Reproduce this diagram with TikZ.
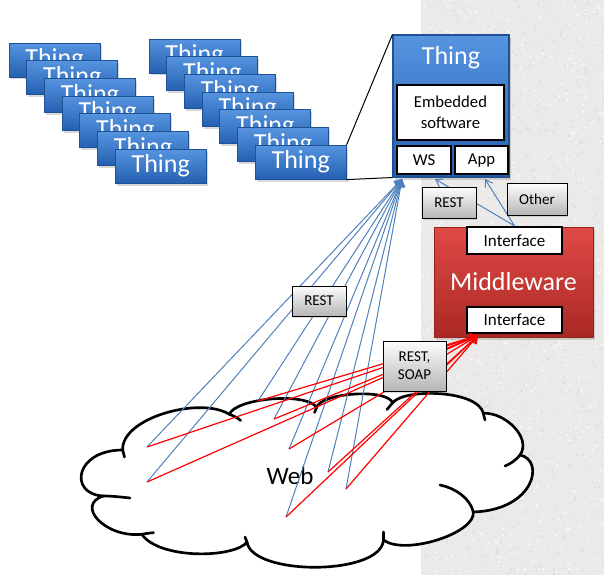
\documentclass[tikz,border=0pt]{standalone}
\usepackage{fontspec}
\setmainfont{Carlito}
\usetikzlibrary{arrows.meta,shadows}

\definecolor{thingtop}{RGB}{86,148,224}
\definecolor{thingbot}{RGB}{36,96,176}
\definecolor{thingrim}{RGB}{30,82,148}
\definecolor{mwtop}{RGB}{224,74,70}
\definecolor{mwbot}{RGB}{170,40,36}
\definecolor{mwrim}{RGB}{150,34,30}
\definecolor{lbltop}{RGB}{253,253,253}
\definecolor{lblbot}{RGB}{182,182,182}
\definecolor{linkblue}{RGB}{79,129,189}
\definecolor{linkred}{RGB}{255,0,0}
\definecolor{stone}{RGB}{235,234,232}

\tikzset{
  thing/.style={rectangle, inner sep=0pt, minimum width=68.25pt, minimum height=25.5pt,
    top color=thingtop, bottom color=thingbot, draw=thingrim, line width=0.6pt,
    text=white, font=\fontsize{19.5}{21}\selectfont,
    drop shadow={opacity=0.3, shadow xshift=1.2pt, shadow yshift=-1.8pt}},
  bigthing/.style={rectangle, inner sep=0pt, minimum width=87pt, minimum height=106.5pt,
    top color=thingtop, bottom color=thingbot, draw=thingrim, line width=0.8pt,
    drop shadow={opacity=0.3, shadow xshift=1.5pt, shadow yshift=-2pt}},
  middle/.style={rectangle, inner sep=0pt, minimum width=119.25pt, minimum height=82.5pt,
    top color=mwtop, bottom color=mwbot, draw=mwrim, line width=0.6pt,
    drop shadow={opacity=0.3, shadow xshift=1.5pt, shadow yshift=-2pt}},
  title/.style={text=white, inner sep=0pt, font=\fontsize{19.5}{21}\selectfont},
  inbox/.style={rectangle, draw=black, line width=1.7pt, fill=white, inner sep=0pt,
    align=center, font=\fontsize{12.5}{16}\selectfont},
  lbl/.style={rectangle, draw=black, line width=0.7pt, top color=lbltop, bottom color=lblbot,
    inner sep=0pt, align=center, font=\fontsize{11.25}{13.75}\selectfont,
    drop shadow={opacity=0.25, shadow xshift=1pt, shadow yshift=-1.2pt}},
  cloudline/.style={draw=black, line width=2pt, line cap=round, line join=round},
  blink/.style={draw=linkblue, line width=0.75pt, -{Straight Barb[length=5pt,width=6.5pt]}},
  rlink/.style={draw=linkred, line width=0.9pt, -{Straight Barb[length=5pt,width=6.5pt]}},
  joiner/.style={draw=black, line width=0.75pt}
}

\begin{document}
\begin{tikzpicture}[x=0.75pt, y=-0.75pt]
\useasboundingbox (0,0) rectangle (604,575);

% page background: white on the left, speckled stone on the right
\fill[white] (0,0) rectangle (604,575);
\begin{scope}
  \clip (421,0) rectangle (604,575);
  \fill[stone] (421,0) rectangle (604,575);
  \pgfmathsetseed{4242}
  \foreach \k in {1,...,2800}{
    \pgfmathsetmacro{\px}{421+183*rnd}
    \pgfmathsetmacro{\py}{575*rnd}
    \pgfmathtruncatemacro{\tone}{16*rnd}
    \fill[black!\tone] (\px,\py) circle[radius=0.8pt];
  }
\end{scope}

% the web cloud
\path[cloudline, fill=white] (122.7,450)
  .. controls (121,418) and (200,396) .. (229.3,414.3)
  .. controls (236,398) and (306,392) .. (316.7,407.3)
  .. controls (321,393) and (386,388) .. (392.7,402.7)
  .. controls (405,388) and (478,390) .. (483.3,413.3)
  .. controls (505,412) and (532,438) .. (520,455)
  .. controls (545,460) and (535,510) .. (473.3,512)
  .. controls (476,533) and (405,556) .. (383.5,540)
  .. controls (381,576) and (252,576) .. (247,542)
  .. controls (235,558) and (160,560) .. (141.7,534.3)
  .. controls (105,538) and (75,505) .. (103.3,496)
  .. controls (68,494) and (75,450) .. (122.7,450) -- cycle;
% inner strokes of the cloud lobes
\draw[cloudline] (122.7,450) -- (124.5,457);
\draw[cloudline] (229.3,414.3) .. controls (233,415.5) and (237,417.5) .. (240.7,420.5);
\draw[cloudline] (316.7,407.3) -- (314.5,412.5);
\draw[cloudline] (392.7,402.7) -- (387,409.5);
\draw[cloudline] (483.3,413.3) -- (485,420);
\draw[cloudline] (520,455) .. controls (515,461) and (510,464) .. (505,466);
\draw[cloudline] (473.3,512) .. controls (470,498) and (455,488) .. (440,485);
\draw[cloudline] (383.5,540) -- (383.5,532);
\draw[cloudline] (247,542) -- (245,537);
\draw[cloudline] (141.7,534.3) .. controls (146,533.5) and (150,533) .. (153.5,532.7);
\draw[cloudline] (103.3,496) .. controls (112,496) and (121,497) .. (130,498);
\node[inner sep=0pt, font=\fontsize{18.75}{20}\selectfont] (web) at (290,476) {Web};

% clients inside the web
\coordinate (pA) at (147,447);
\coordinate (pB) at (147,482);
\coordinate (pH) at (258,401);
\coordinate (pC) at (274,419);
\coordinate (pD) at (289,449);
\coordinate (pE) at (328,472);
\coordinate (pF) at (346,489);
\coordinate (pG) at (286,517);

% two stacks of things
\foreach \i in {0,...,6}{
  \node[thing] (L\i) at ({54.5+17.7*\i},{60+17.7*\i}) {Thing};
}
\foreach \i in {0,...,6}{
  \node[thing] (R\i) at ({194.5+17.7*\i},{56+17.7*\i}) {Thing};
}

% one thing, opened up
\node[bigthing] (big) at (451,106) {};
\node[title] (bigtitle) at (451,58) {Thing};
\node[inbox, minimum width=80.25pt, minimum height=41.25pt] (emb) at (450.5,112.5) {Embedded\\software};
\node[inbox, minimum width=40.5pt, minimum height=21pt] (ws) at (424,160) {WS};
\node[inbox, minimum width=39.75pt, minimum height=21pt] (app) at (481.5,160) {App};

\draw[joiner] (R6.north east) -- (big.north west);
\draw[joiner] (R6.south east) -- (big.south west);

% middleware
\node[middle] (mw) at (513.5,282) {};
\node[title] (mwtitle) at (513.5,282) {Middleware};
\node[inbox, minimum width=71.25pt, minimum height=20.25pt, font=\fontsize{12.75}{15}\selectfont] (itop) at (514.5,240.5) {Interface};
\node[inbox, minimum width=71.25pt, minimum height=19.5pt, font=\fontsize{12.75}{15}\selectfont] (ibot) at (514.5,320) {Interface};

% arrow targets
\coordinate (tipWS) at (402,179);
\coordinate (tipWSmw) at (435,179);
\coordinate (tipApp) at (485,179);
\coordinate (tipMW) at (478,335.5);

% direct calls from the web to the thing
\foreach \p in {pA,pB,pH,pC,pD,pE,pF,pG}{
  \draw[blink] (\p) -- (tipWS);
}
% calls from the web to the middleware
\foreach \p in {pA,pB,pH,pC,pD,pE,pF,pG}{
  \draw[rlink] (\p) -- (tipMW);
}
% middleware to the thing
\draw[blink] (itop.north) -- (tipWSmw);
\draw[blink] (itop.north) -- (tipApp);

% protocol labels
\node[lbl, minimum width=40.5pt, minimum height=22.5pt] (rest1) at (319,301) {REST};
\node[lbl, minimum width=40.5pt, minimum height=23.25pt] (rest2) at (449,202.5) {REST};
\node[lbl, minimum width=45pt, minimum height=24pt] (other) at (537,199) {Other};
\node[lbl, minimum width=47.25pt, minimum height=37.5pt] (restsoap) at (414.5,366) {REST,\\SOAP};
\end{tikzpicture}
\end{document}
